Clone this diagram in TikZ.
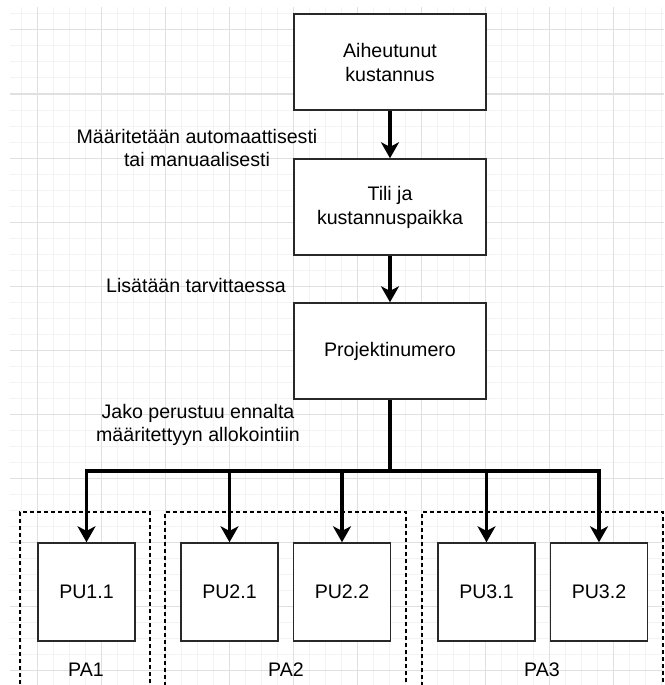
\documentclass[tikz,border=0pt]{standalone}
\usepackage{fontspec}
\setmainfont{Liberation Sans}
\definecolor{gridMinor}{RGB}{243,243,243}
\definecolor{gridMajor}{RGB}{224,224,224}
\definecolor{boxLine}{RGB}{40,40,40}
\usetikzlibrary{arrows.meta, positioning}

\begin{document}
\begin{tikzpicture}[
    x=0.75pt, y=-0.75pt,
    box/.style={draw=boxLine, line width=1.1pt, fill=white, minimum width=144pt,
                minimum height=72pt, align=center, inner sep=0pt,
                font=\fontsize{14.7}{18}\selectfont},
    unit/.style={box, minimum width=72.75pt, minimum height=73.5pt},
    group/.style={draw=black, line width=1.1pt, dash pattern=on 3pt off 2.25pt,
                  minimum width=180.75pt, minimum height=141pt, inner sep=0pt},
    note/.style={align=center, inner sep=0pt, font=\fontsize{14.7}{17.25}\selectfont},
    arr/.style={-{Stealth[length=12pt, width=13.5pt, inset=3.5pt]}, line width=2.4pt},
    trunk/.style={line width=2.4pt}
  ]
    \useasboundingbox (0,0) rectangle (664,685);

    % Grid
    \begin{scope}
      \clip (10,7) rectangle (664,685);
      \foreach \gx in {5,21,...,661} \draw[gridMinor, line width=0.75pt] (\gx,7) -- (\gx,685);
      \foreach \gy in {14,30,...,682} \draw[gridMinor, line width=0.75pt] (10,\gy) -- (664,\gy);
      \foreach \gx in {37,101,...,613} \draw[gridMajor, line width=0.75pt] (\gx,7) -- (\gx,685);
      \foreach \gy in {30,94,...,670} \draw[gridMajor, line width=0.75pt] (10,\gy) -- (664,\gy);
    \end{scope}

    % Groups
    \node[group, minimum width=97.5pt] (pa1) at (85,606) {};
    \node[group] (pa2) at (285.5,606) {};
    \node[group] (pa3) at (542.5,606) {};

    % Main chain
    \node[box] (cost) at (390,62) {Aiheutunut\\kustannus};
    \node[box] (account) at (390,207) {Tili ja\\kustannuspaikka};
    \node[box] (project) at (390,351) {Projektinumero};

    % Units
    \node[unit] (pu11) at (86.5,592) {PU1.1};
    \node[unit] (pu21) at (229.5,592) {PU2.1};
    \node[unit] (pu22) at (342,592) {PU2.2};
    \node[unit] (pu31) at (486.5,592) {PU3.1};
    \node[unit] (pu32) at (599,592) {PU3.2};

    \node[note] (pa1lbl) at (86,670) {PA1};
    \node[note] (pa2lbl) at (286,670) {PA2};
    \node[note] (pa3lbl) at (542,670) {PA3};

    \draw[arr] (cost) -- (account);
    \draw[arr] (account) -- (project);

    \coordinate (split) at (390,471);
    \draw[trunk] (project) -- (split);
    \draw[arr] (split) -| (pu11);
    \draw[arr] (split) -| (pu21);
    \draw[arr] (split) -| (pu22);
    \draw[arr] (split) -| (pu31);
    \draw[arr] (split) -| (pu32);

    % Annotations
    \node[note] (autolbl) at (197,148) {Määritetään automaattisesti\\tai manuaalisesti};
    \node[note] (addlbl) at (196,285) {Lisätään tarvittaessa};
    \node[note] (splitlbl) at (198,425) {Jako perustuu ennalta\\määritettyyn allokointiin};
  \end{tikzpicture}
\end{document}
